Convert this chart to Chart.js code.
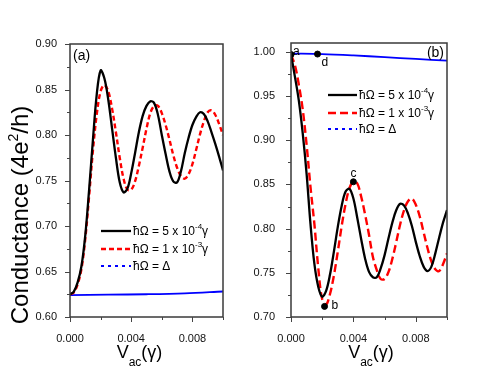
<!DOCTYPE html>
<html>
<head>
<meta charset="utf-8">
<script src="https://cdn.jsdelivr.net/npm/chart.js@4.4.1/dist/chart.umd.min.js"></script>
<style>
  html, body { margin: 0; padding: 0; background: #fff; }
  #wrap { position: relative; width: 491px; height: 379px; }
  canvas { position: absolute; top: 0; }
  #chartA { left: 0; }
  #chartB { left: 245px; }
</style>
</head>
<body>
<div id="wrap">
  <canvas id="chartA" width="245" height="379"></canvas>
  <canvas id="chartB" width="246" height="379"></canvas>
</div>
<script>
// V_ac sample points (gamma units), shared by the oscillating curves
const vac = [0, 0.00025, 0.0005, 0.00075, 0.001, 0.00125, 0.0015, 0.00175, 0.002, 0.00225,
             0.0025, 0.00275, 0.003, 0.00325, 0.0035, 0.00375, 0.004, 0.00425, 0.0045, 0.00475,
             0.005, 0.00525, 0.0055, 0.00575, 0.006, 0.00625, 0.0065, 0.00675, 0.007, 0.00725,
             0.0075, 0.00775, 0.008, 0.00825, 0.0085, 0.00875, 0.009, 0.00925, 0.0095, 0.00975, 0.010];

// ---- panel (a) ----
const gA_slow = [0.625, 0.628, 0.638, 0.656, 0.690, 0.740, 0.795, 0.845, 0.871, 0.862,
                 0.839, 0.807, 0.775, 0.748, 0.737, 0.741, 0.758, 0.780, 0.803, 0.821,
                 0.832, 0.837, 0.835, 0.822, 0.800, 0.779, 0.760, 0.749, 0.748, 0.760,
                 0.780, 0.797, 0.811, 0.820, 0.825, 0.823, 0.815, 0.803, 0.790, 0.776, 0.761];
const gA_fast = [0.625, 0.627, 0.636, 0.653, 0.686, 0.733, 0.783, 0.823, 0.848, 0.855,
                 0.848, 0.829, 0.803, 0.775, 0.752, 0.740, 0.740, 0.749, 0.766, 0.786,
                 0.807, 0.824, 0.832, 0.832, 0.824, 0.811, 0.795, 0.778, 0.764, 0.755,
                 0.752, 0.757, 0.768, 0.784, 0.801, 0.815, 0.825, 0.827, 0.822, 0.812, 0.800];
const vacA_gap = [0, 0.0025, 0.005, 0.0075, 0.010];
const gA_gap = [0.624, 0.6245, 0.625, 0.626, 0.628];

// ---- panel (b) ----
const gB_slow = [0.997, 0.972, 0.945, 0.908, 0.862, 0.805, 0.760, 0.734, 0.723, 0.7295,
                 0.748, 0.774, 0.802, 0.826, 0.842, 0.845, 0.834, 0.812, 0.788, 0.766,
                 0.751, 0.745, 0.745, 0.755, 0.770, 0.789, 0.807, 0.821, 0.828, 0.826,
                 0.817, 0.803, 0.785, 0.769, 0.757, 0.752, 0.757, 0.772, 0.790, 0.807, 0.821];
const gB_fast = [0.997, 0.985, 0.963, 0.935, 0.895, 0.847, 0.805, 0.755, 0.720, 0.714,
                 0.726, 0.747, 0.774, 0.803, 0.828, 0.846, 0.853, 0.851, 0.836, 0.816,
                 0.793, 0.768, 0.753, 0.743, 0.743, 0.751, 0.766, 0.785, 0.805, 0.821,
                 0.831, 0.834, 0.827, 0.814, 0.796, 0.778, 0.763, 0.754, 0.752, 0.760, 0.772];
const vacB_gap = [0, 0.002, 0.004, 0.006, 0.008, 0.010];
const gB_gap = [0.998, 0.9975, 0.996, 0.994, 0.992, 0.990];

const markX = [0, 0.00215, 0.0040, 0.0017];
const markY = [0.997, 0.712, 0.853, 0.9975];
const markLbl = ['a', 'b', 'c', 'd'];

// legend text: main part, superscript, tail
const legMain = ['\u0127\u03A9 = 5 x 10', '\u0127\u03A9 = 1 x 10', '\u0127\u03A9 = \u0394'];
const legSup = ['-4', '-3', ''];
const legTail = ['\u03B3', '\u03B3', ''];

const FONT = '"Liberation Sans", Arial, Helvetica, sans-serif';
const BLACK = '#000000', RED = '#ff0000', BLUE = '#0000ff';

function pts(xs, ys) { return xs.map((x, i) => ({ x: x, y: ys[i] })); }

function drawRich(ctx, parts, x, y, align) {
  let w = 0;
  parts.forEach(p => { ctx.font = p.size + 'px ' + FONT; w += ctx.measureText(p.t).width; });
  let cx = align === 'center' ? x - w / 2 : x;
  ctx.textAlign = 'left';
  ctx.textBaseline = 'alphabetic';
  parts.forEach(p => {
    ctx.font = p.size + 'px ' + FONT;
    ctx.fillText(p.t, cx, y + (p.dy || 0));
    cx += ctx.measureText(p.t).width;
  });
}

const deco = {
  id: 'deco',
  afterDraw(chart) {
    const o = chart.options.plugins.deco;
    const ctx = chart.ctx;
    const a = chart.chartArea;
    const xs = chart.scales.x, ys = chart.scales.y;
    ctx.save();
    // frame
    ctx.strokeStyle = '#3a3a3a';
    ctx.lineWidth = 1.5;
    ctx.strokeRect(a.left, a.top, a.right - a.left, a.bottom - a.top);
    // tick marks (major = labelled)
    ctx.lineWidth = 1;
    ctx.strokeStyle = '#444';
    ctx.beginPath();
    xs.ticks.forEach(t => {
      const px = Math.round(xs.getPixelForValue(t.value)) + 0.5;
      const len = t.label ? 5 : 3;
      ctx.moveTo(px, a.bottom); ctx.lineTo(px, a.bottom + len);
    });
    ys.ticks.forEach(t => {
      const py = Math.round(ys.getPixelForValue(t.value)) + 0.5;
      const len = t.label ? 5 : 3;
      ctx.moveTo(a.left, py); ctx.lineTo(a.left - len, py);
    });
    ctx.stroke();

    // legend
    o.legY.forEach((y, i) => {
      const ds = chart.data.datasets[i];
      ctx.strokeStyle = ds.borderColor;
      ctx.lineWidth = ds.borderWidth;
      ctx.setLineDash(o.legDash[i]);
      ctx.beginPath();
      ctx.moveTo(o.legX, y); ctx.lineTo(o.legX + o.legLen, y);
      ctx.stroke();
      ctx.setLineDash([]);
      ctx.fillStyle = '#000';
      drawRich(ctx, [
        { t: legMain[i], size: 12 },
        { t: legSup[i], size: 8, dy: -6 },
        { t: legTail[i], size: 12 }
      ], o.legX + o.legLen + 2, y + 4, 'left');
    });

    // panel label
    ctx.fillStyle = '#000';
    ctx.font = '14px ' + FONT;
    ctx.textAlign = o.tagAlign;
    ctx.textBaseline = 'alphabetic';
    ctx.fillText(o.tag, o.tagAlign === 'left' ? a.left + 3 : a.right - 3, o.tagY);

    // point labels
    if (o.marks) {
      const meta = chart.getDatasetMeta(3);
      ctx.font = '12px ' + FONT;
      ctx.textAlign = 'left';
      meta.data.forEach((el, i) => {
        const off = o.markOff[i];
        ctx.fillText(markLbl[i], el.x + off[0], el.y + off[1]);
      });
    }

    // x title
    const xc = (a.left + a.right) / 2 + o.xTitleShift;
    drawRich(ctx, [
      { t: 'V', size: 18 },
      { t: 'ac', size: 12, dy: 8 },
      { t: '(\u03B3)', size: 18 }
    ], xc, 358, 'center');

    // y title
    if (o.yTitle) {
      ctx.translate(28, 215);
      ctx.rotate(-Math.PI / 2);
      drawRich(ctx, [
        { t: 'Conductance (4e', size: 24 },
        { t: '2', size: 14, dy: -10 },
        { t: '/h)', size: 24 }
      ], 0, 0, 'center');
    }
    ctx.restore();
  }
};

function stepTicks(step) {
  return s => {
    const first = Math.ceil(s.min / step - 1e-6);
    const last = Math.floor(s.max / step + 1e-6);
    const t = [];
    for (let k = first; k <= last; k++) t.push({ value: +(k * step).toFixed(6) });
    s.ticks = t;
  };
}

function makePanel(id, sets, p) {
  const datasets = [
    { data: pts(sets[0], sets[1]), borderColor: BLACK, borderWidth: 2.3, order: 1 },
    { data: pts(sets[2], sets[3]), borderColor: RED, borderWidth: 2.4, borderDash: p.redDash, order: 2 },
    { data: pts(sets[4], sets[5]), borderColor: BLUE, borderWidth: 1.8, order: 2 }
  ].map(d => Object.assign(d, { pointRadius: 0, fill: false, tension: 0.35 }));
  if (p.marks) {
    datasets.push({
      type: 'scatter',
      data: pts(markX, markY),
      pointRadius: 3,
      pointBackgroundColor: '#000',
      pointBorderColor: '#000',
      showLine: false,
      order: 0
    });
  }
  return new Chart(document.getElementById(id), {
    type: 'line',
    data: { datasets: datasets },
    plugins: [deco],
    options: {
      responsive: false,
      animation: false,
      layout: { padding: { left: 0, top: p.top, right: p.right, bottom: 0 } },
      scales: {
        x: {
          type: 'linear', min: 0, max: 0.010,
          grid: { display: false },
          border: { display: false },
          afterBuildTicks: stepTicks(0.002),
          afterFit: s => { s.height = 62; },
          ticks: {
            autoSkip: false, maxRotation: 0, padding: 7,
            color: '#111', font: { family: FONT, size: 11 },
            callback: v => (Math.round(v * 1000) % 4 === 0 && Math.round(v * 1000) < 10) ? v.toFixed(3) : ''
          }
        },
        y: {
          type: 'linear', min: p.yMin, max: p.yMax,
          grid: { display: false },
          border: { display: false },
          afterBuildTicks: stepTicks(0.025),
          afterFit: s => { s.width = p.yWidth; },
          ticks: {
            autoSkip: false, padding: p.yPad,
            color: '#111', font: { family: FONT, size: 11 },
            callback: v => (Math.round(v * 1000) % 50 === 0) ? v.toFixed(2) : ''
          }
        }
      },
      plugins: {
        legend: { display: false },
        tooltip: { enabled: false },
        deco: p.deco
      }
    }
  });
}

makePanel('chartA', [vac, gA_slow, vac, gA_fast, vacA_gap, gA_gap], {
  yMin: 0.60, yMax: 0.90, yWidth: 70, top: 44, right: 22, yPad: 5,
  redDash: [5, 3], marks: false,
  deco: {
    legX: 101, legLen: 30, legY: [231, 249, 266],
    legDash: [[], [5, 3], [3, 4]],
    tag: '(a)', tagAlign: 'left', tagY: 60,
    xTitleShift: -7, yTitle: true, marks: false
  }
});

makePanel('chartB', [vac, gB_slow, vac, gB_fast, vacB_gap, gB_gap], {
  yMin: 0.70, yMax: 1.01, yWidth: 46, top: 43, right: 44, yPad: 8,
  redDash: [8, 4], marks: true,
  deco: {
    legX: 83, legLen: 29, legY: [95, 113, 129],
    legDash: [[], [8, 4], [3, 4]],
    tag: '(b)', tagAlign: 'right', tagY: 57,
    xTitleShift: 2, yTitle: false, marks: true,
    markOff: [[2, 1], [7, 3], [-3, -5], [4, 12]]
  }
});
</script>
</body>
</html>
